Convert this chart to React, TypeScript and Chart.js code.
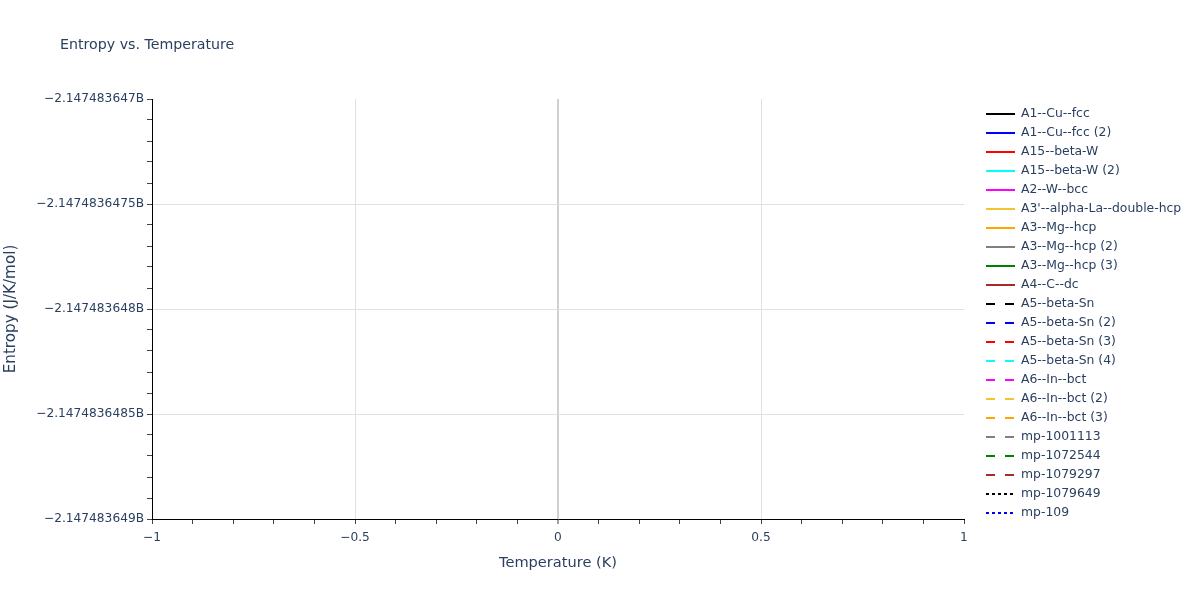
import React, { useEffect, useRef } from "react";
import { Chart, registerables } from "chart.js";

Chart.register(...registerables);

const chartTitle = "Entropy vs. Temperature";
const xAxisTitle = "Temperature (K)";
const yAxisTitle = "Entropy (J/K/mol)";

const seriesNames = [
  "A1--Cu--fcc",
  "A1--Cu--fcc (2)",
  "A15--beta-W",
  "A15--beta-W (2)",
  "A2--W--bcc",
  "A3'--alpha-La--double-hcp",
  "A3--Mg--hcp",
  "A3--Mg--hcp (2)",
  "A3--Mg--hcp (3)",
  "A4--C--dc",
  "A5--beta-Sn",
  "A5--beta-Sn (2)",
  "A5--beta-Sn (3)",
  "A5--beta-Sn (4)",
  "A6--In--bct",
  "A6--In--bct (2)",
  "A6--In--bct (3)",
  "mp-1001113",
  "mp-1072544",
  "mp-1079297",
  "mp-1079649",
  "mp-109",
];

const seriesColors = [
  "#000000", "#0000ff", "#ff0000", "#00ffff", "#ff00ff", "#f0c432",
  "#ffa500", "#808080", "#008000", "#a52a2a",
  "#000000", "#0000ff", "#ff0000", "#00ffff", "#ff00ff", "#f0c432",
  "#ffa500", "#808080", "#008000", "#a52a2a",
  "#000000", "#0000ff",
];

const seriesDash = [
  "solid", "solid", "solid", "solid", "solid", "solid", "solid", "solid", "solid", "solid",
  "dash", "dash", "dash", "dash", "dash", "dash", "dash", "dash", "dash", "dash",
  "dot", "dot",
];

// The series contain no plottable points in the reference (empty plot area).
const temperatureK: number[] = [];
const entropyValues: number[][] = seriesNames.map(() => []);

const xMin = -1;
const xMax = 1;
const xTickValues = [-1, -0.5, 0, 0.5, 1];
const xTickLabels = ["\u22121", "\u22120.5", "0", "0.5", "1"];

const yMin = -2147483649;
const yMax = -2147483647;
const yTickValues = [-2147483649, -2147483648.5, -2147483648, -2147483647.5, -2147483647];
const yTickLabels = [
  "\u22122.147483649B",
  "\u22122.1474836485B",
  "\u22122.147483648B",
  "\u22122.1474836475B",
  "\u22122.147483647B",
];

const TEXT = "#2a3f5f";
const FONT = "'DejaVu Sans', Verdana, sans-serif";

function dashFor(d: string): number[] {
  if (d === "dash") return [9, 10];
  if (d === "dot") return [3, 3];
  return [];
}

function findIndex(values: number[], v: number, tol: number) {
  for (let i = 0; i < values.length; i++) if (Math.abs(values[i] - v) < tol) return i;
  return -1;
}

const overlayPlugin = {
  id: "overlay",
  afterDraw(chart: any) {
    const ctx = chart.ctx as CanvasRenderingContext2D;
    ctx.save();
    // title
    ctx.fillStyle = TEXT;
    ctx.font = `14.2px ${FONT}`;
    ctx.textAlign = "left";
    ctx.textBaseline = "middle";
    ctx.fillText(chartTitle, 60, 45);
    // legend
    ctx.font = `12.4px ${FONT}`;
    chart.data.datasets.forEach((ds: any, i: number) => {
      const y = 114 + i * 19;
      ctx.save();
      ctx.strokeStyle = ds.borderColor;
      ctx.lineWidth = 2;
      ctx.lineCap = "butt";
      ctx.setLineDash(ds.borderDash || []);
      ctx.beginPath();
      ctx.moveTo(986, y);
      ctx.lineTo(1015, y);
      ctx.stroke();
      ctx.restore();
      ctx.fillStyle = TEXT;
      ctx.textAlign = "left";
      ctx.textBaseline = "middle";
      ctx.fillText(ds.label, 1021, y);
    });
    ctx.restore();
  },
};

export default function App() {
  const canvasRef = useRef<HTMLCanvasElement | null>(null);

  useEffect(() => {
    document.body.style.margin = "0";
    const canvas = canvasRef.current;
    if (!canvas) return;
    const datasets = seriesNames.map((name, i) => ({
      label: name,
      data: entropyValues[i].map((v, j) => ({ x: temperatureK[j], y: v })),
      borderColor: seriesColors[i],
      backgroundColor: seriesColors[i],
      borderDash: dashFor(seriesDash[i]),
      borderWidth: 2,
      pointRadius: 0,
      fill: false,
    }));

    const chart = new Chart(canvas, {
      type: "line",
      data: { datasets },
      plugins: [overlayPlugin],
      options: {
        animation: false,
        responsive: false,
        devicePixelRatio: 1,
        layout: { padding: { top: 99, right: 236, bottom: 0, left: 0 } },
        plugins: {
          legend: { display: false },
          title: { display: false },
          tooltip: { enabled: false },
        },
        scales: {
          x: {
            type: "linear",
            min: xMin,
            max: xMax,
            afterFit: (s: any) => {
              s.height = 81;
            },
            ticks: {
              stepSize: 0.1,
              autoSkip: false,
              maxRotation: 0,
              padding: 7,
              color: TEXT,
              font: { family: FONT, size: 12.2 },
              callback: (v: any) => {
                const k = findIndex(xTickValues, Number(v), 1e-6);
                return k >= 0 ? xTickLabels[k] : "";
              },
            },
            grid: {
              drawTicks: true,
              tickLength: 5,
              tickWidth: 1,
              tickColor: "#444444",
              color: (c: any) => {
                const v = c.tick ? c.tick.value : NaN;
                const k = findIndex(xTickValues, v, 1e-6);
                if (k <= 0 || k === xTickValues.length - 1) return "rgba(0,0,0,0)";
                if (Math.abs(v) < 1e-9) return "#d0d0d0";
                return "#e0e0e0";
              },
              lineWidth: (c: any) => {
                const v = c.tick ? c.tick.value : NaN;
                return Math.abs(v) < 1e-9 ? 2 : 1;
              },
            },
            border: { display: true, color: "#000000", width: 1 },
            title: {
              display: true,
              text: xAxisTitle,
              color: TEXT,
              font: { family: FONT, size: 14.6 },
              padding: { top: 0, bottom: 28.3 },
            },
          },
          y: {
            type: "linear",
            min: yMin,
            max: yMax,
            afterFit: (s: any) => {
              s.width = 152;
            },
            ticks: {
              stepSize: 0.1,
              autoSkip: false,
              padding: 3,
              color: TEXT,
              font: { family: FONT, size: 12.2 },
              callback: (v: any) => {
                const k = findIndex(yTickValues, Number(v), 1e-3);
                return k >= 0 ? yTickLabels[k] : "";
              },
            },
            grid: {
              drawTicks: true,
              tickLength: 5,
              tickWidth: 1,
              tickColor: "#444444",
              color: (c: any) => {
                const v = c.tick ? c.tick.value : NaN;
                const k = findIndex(yTickValues, v, 1e-3);
                if (k <= 0 || k === yTickValues.length - 1) return "rgba(0,0,0,0)";
                return "#e0e0e0";
              },
              lineWidth: 1,
            },
            border: { display: true, color: "#000000", width: 1 },
            title: {
              display: true,
              text: yAxisTitle,
              color: TEXT,
              font: { family: FONT, size: 15.2 },
              padding: { top: 1.5, bottom: 0 },
            },
          },
        },
      },
    } as any);

    return () => {
      chart.destroy();
    };
  }, []);

  return (
    <div style={{ position: "absolute", left: 0, top: 0, width: 1200, height: 600, background: "#ffffff" }}>
      <canvas ref={canvasRef} width={1200} height={600} style={{ width: 1200, height: 600, display: "block" }} />
    </div>
  );
}
